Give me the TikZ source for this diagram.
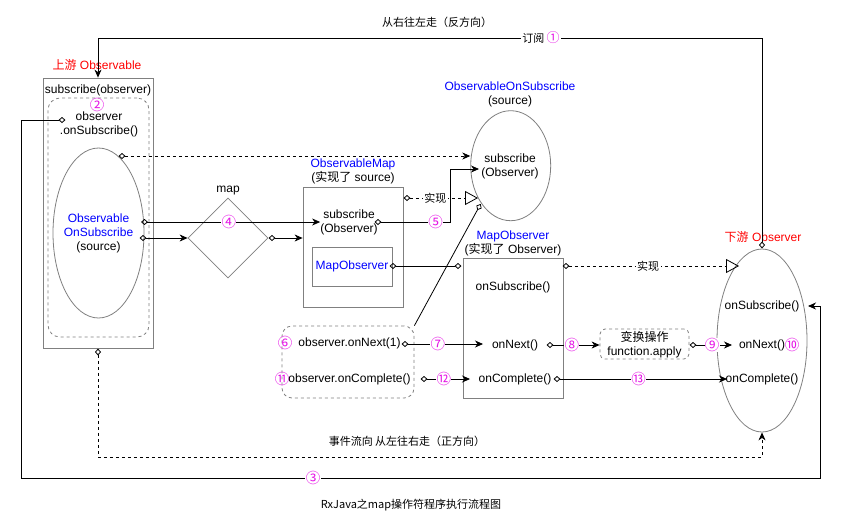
\documentclass[tikz,border=0pt]{standalone}
\usepackage{fontspec}
\setmainfont{Liberation Sans}
\newfontfamily\cjk{Noto Sans CJK SC}
\usetikzlibrary{arrows.meta,shapes.geometric}

\definecolor{numc}{RGB}{230,20,230}
\definecolor{edgec}{RGB}{128,128,128}
\definecolor{namec}{RGB}{0,0,255}
\definecolor{rolec}{RGB}{255,0,0}

\newcommand{\zh}[1]{{\cjk #1}}

\tikzset{
  txt/.style={font=\fontsize{12}{14}\selectfont, inner sep=0pt, align=center},
  smalltxt/.style={font=\cjk\fontsize{11}{13}\selectfont, inner sep=0pt, align=center},
  onedge/.style={fill=white, inner sep=1.5pt},
  num/.style={font=\cjk\fontsize{14.5}{16}\selectfont, text=numc, inner sep=0.3pt, fill=white},
  outline/.style={draw=edgec, line width=0.8pt, inner sep=0pt},
  dashedline/.style={dash pattern=on 3pt off 3pt},
  link/.style={draw=black, line width=0.8pt},
  arr/.style={-{Stealth[length=8pt,width=7pt,inset=2.5pt]}},
  dtip/.style={{Diamond[open,length=7pt,width=6pt]}-{Stealth[length=8pt,width=7pt,inset=2.5pt]}, shorten <=-3.5pt},
  dtri/.style={{Diamond[open,length=7pt,width=6pt]}-{Triangle[open,length=13pt,width=14pt]}, shorten <=-3.5pt},
  ddia/.style={{Diamond[open,length=7pt,width=6pt]}-{Diamond[open,length=7pt,width=6pt]}, shorten <=-3.5pt, shorten >=-3.5pt},
  enddia/.style={-{Diamond[open,length=7pt,width=6pt]}, shorten >=-3.5pt},
}

\begin{document}
\begin{tikzpicture}[x=1pt,y=-1pt]
\useasboundingbox[fill=white] (0,0) rectangle (842,528);

% ---------- upstream Observable ----------
\node[outline, minimum width=110pt, minimum height=270pt] (obs) at (98,213) {};
\node[outline, dashedline, rounded corners=12pt, minimum width=101pt, minimum height=239pt] (obsbody) at (98.5,217.5) {};
\node[outline, ellipse, minimum width=91pt, minimum height=170pt] (src) at (98.5,233) {};
\node[txt] (srctxt) at (98.5,233) {\textcolor{namec}{Observable}\\\textcolor{namec}{OnSubscribe}\\(source)};
\node[txt, text=rolec] (obstitle) at (97,65) {\zh{上游} Observable};
\node[txt] (obssub) at (98,90) {subscribe(observer)};
\node[num, fill=none] (n2) at (97,105) {②};
\node[txt] (onsub) at (99,124) {observer\\.onSubscribe()};

% ---------- map operator ----------
\node[outline, diamond, minimum width=80pt, minimum height=80pt] (map) at (228,238) {};
\node[txt] (maplbl) at (228,191) {map};

% ---------- ObservableMap ----------
\node[outline, minimum width=100pt, minimum height=120pt] (omap) at (353,247) {};
\node[txt] (omaptitle) at (353,171.5) {\textcolor{namec}{ObservableMap}\\(\zh{实现了} source)};
\node[txt] (omapsub) at (349,222) {subscribe\\(Observer)};
\node[outline, minimum width=80pt, minimum height=39pt] (mapobsin) at (352,266.5) {};
\node[txt, text=namec] (mapobsintxt) at (352,266.5) {MapObserver};

% ---------- ObservableOnSubscribe ----------
\node[outline, ellipse, minimum width=80pt, minimum height=110pt] (oos) at (510.7,165.7) {};
\node[txt] (oostitle) at (510,94) {\textcolor{namec}{ObservableOnSubscribe}\\(source)};
\node[txt] (oossub) at (510,166) {subscribe\\(Observer)};

% ---------- MapObserver ----------
\node[outline, minimum width=100pt, minimum height=140pt] (mo) at (513,328) {};
\node[txt] (motitle) at (513,243.5) {\textcolor{namec}{MapObserver}\\(\zh{实现了} Observer)};
\node[txt] (mosub) at (513,287) {onSubscribe()};
\node[txt] (monext) at (515,345) {onNext()};
\node[txt] (mocomp) at (515,379) {onComplete()};

% ---------- transform ----------
\node[outline, dashedline, rounded corners=5pt, minimum width=89pt, minimum height=30pt] (fn) at (644.5,344) {};
\node[txt] (fntxt) at (644.5,344.5) {\zh{变换操作}\\function.apply};

% ---------- emitter calls ----------
\node[outline, dashedline, rounded corners=10pt, minimum width=132pt, minimum height=72pt] (emit) at (348,362) {};
\node[num, fill=none] (n6) at (285,343) {⑥};
\node[txt] (emitnext) at (349.5,343) {observer.onNext(1)};
\node[num, fill=none] (n11) at (282,379) {⑪};
\node[txt] (emitcomp) at (349.5,379) {observer.onComplete()};

% ---------- downstream Observer ----------
\node[outline, ellipse, minimum width=90pt, minimum height=183pt] (down) at (762,340.5) {};
\node[txt, text=rolec] (downtitle) at (763,237) {\zh{下游} Observer};
\node[txt] (dsub) at (762,306) {onSubscribe()};
\node[txt] (dnext) at (762,345) {onNext()};
\node[num, fill=none] (n10) at (792,345) {⑩};
\node[txt] (dcomp) at (762,379) {onComplete()};

% ---------- free texts ----------
\node[smalltxt] (rtl) at (437,22) {从右往左走（反方向）};
\node[smalltxt] (ltr) at (407,441) {事件流向 从左往右走（正方向）};
\node[smalltxt] (caption) at (411,505) {RxJava之map操作符程序执行流程图};

% ---------- connector points ----------
\coordinate (c1) at (762,245);
\coordinate (c1a) at (762,38);
\coordinate (c4) at (62,120);
\coordinate (c4a) at (21,120);
\coordinate (c4b) at (21,478);
\coordinate (c4c) at (820,478);
\coordinate (c4d) at (820,306);
\coordinate (c4e) at (808,306);
\coordinate (c5) at (122,156);
\coordinate (c6) at (144.5,222);
\coordinate (c7) at (143,238);
\coordinate (c8) at (272,238);
\coordinate (c9) at (378,222);
\coordinate (c9a) at (450,222);
\coordinate (c9b) at (450,169);
\coordinate (c9c) at (479,169);
\coordinate (c10) at (407,198);
\coordinate (c10e) at (478,198);
\coordinate (c11) at (393,266);
\coordinate (c11e) at (458,266);
\coordinate (c12) at (479,207);
\coordinate (c13) at (566,266);
\coordinate (c13e) at (739,266);
\coordinate (c14) at (405,344);
\coordinate (c14e) at (483,344);
\coordinate (c15) at (424,379);
\coordinate (c15e) at (470,379);
\coordinate (c16) at (550,345);
\coordinate (c17) at (693,345);
\coordinate (c17e) at (732,345);
\coordinate (c18) at (557,379);
\coordinate (c18e) at (727,379);
\coordinate (c19) at (98,352);
\coordinate (c19a) at (98,457);
\coordinate (c19b) at (762,457);

% ---------- connectors ----------
% 1: subscription, right to left
\draw[link, dtip] (c1) -- (c1a) -| (obs.north);
\node[smalltxt, onedge] (sublbl) at (541,38) {订阅 \textcolor{numc}{\fontsize{13}{14}\selectfont ①}};

% 3: onSubscribe back to the downstream observer
\draw[link, dtip] (c4) -- (c4a) -- (c4b) -- (c4c) -- (c4d) -- (c4e);
\node[num] (n3) at (313,478) {③};

% source subscribed through ObservableOnSubscribe
\draw[link, dashedline, dtip] (c5) -- (oos.west |- c5);

% 4: map call
\draw[link, dtip] (c6) -- node[num, pos=0.48] (n4) {④} (omapsub.west);
\draw[link, dtip] (c7) -- (map.west);
\draw[link, dtip] (c8) -- (omap.west |- c8);

% 5: ObservableMap subscribes to the source
\draw[link, dtip] (c9) -- node[num, pos=0.8] (n5) {⑤} (c9a) -- (c9b) -- (c9c);

% realisations
\draw[link, dashedline, dtri] (c10) -- node[smalltxt, onedge, pos=0.4] (impl1) {实现} (c10e);
\draw[link, dashedline, dtri] (c13) -- node[smalltxt, onedge, pos=0.475] (impl2) {实现} (c13e);

% MapObserver wiring
\draw[link, ddia] (c11) -- (c11e);
\draw[link, enddia] (emit.north east) -- (c12);

% event flow
\draw[link, dtip] (c14) -- node[num, pos=0.42] (n7) {⑦} (c14e);
\draw[link, dtip] (c15) -- node[num, pos=0.43] (n12) {⑫} (c15e);
\draw[link, dtip] (c16) -- node[num, pos=0.44] (n8) {⑧} (fn.west |- c16);
\draw[link, dtip] (c17) -- node[num, pos=0.49] (n9) {⑨} (c17e);
\draw[link, dtip] (c18) -- node[num, pos=0.48] (n13) {⑬} (c18e);

% event direction, left to right
\draw[link, dashedline, dtip] (c19) -- (c19a) -- (c19b) -- (down.south);

\end{tikzpicture}
\end{document}
